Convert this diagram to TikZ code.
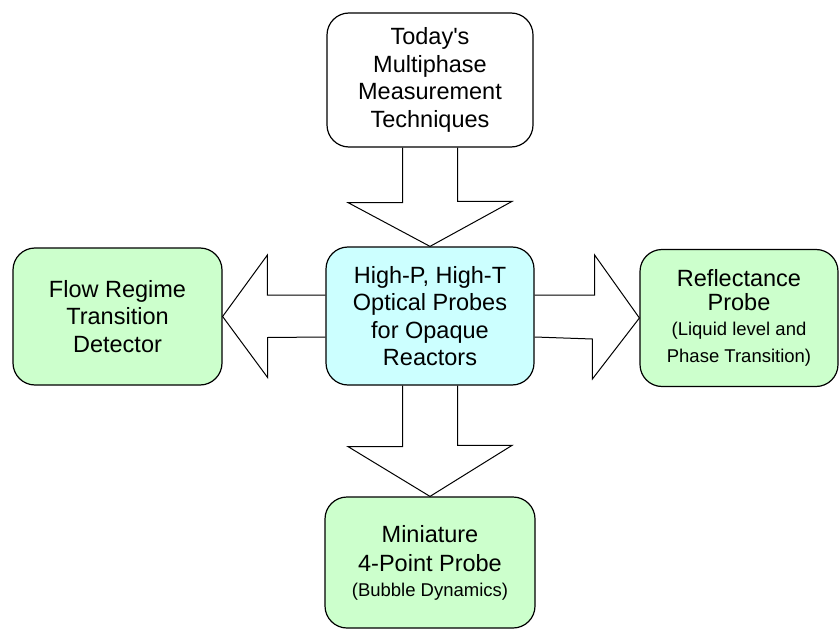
\documentclass[tikz,border=0pt]{standalone}
\usepackage{fontspec}
\setmainfont{Liberation Sans}
\usetikzlibrary{calc}

\definecolor{probecyan}{HTML}{CCFFFF}
\definecolor{probegreen}{HTML}{CCFFCC}
\newcommand{\boxtxt}{\fontsize{23.5}{27.5}\selectfont}
\newcommand{\notetxt}{\fontsize{18.5}{23}\selectfont}

\begin{document}
\begin{tikzpicture}[x=1pt,y=-1pt,
  box/.style={draw,line width=1.2pt,rounded corners=22pt,inner sep=0pt,align=center,font=\boxtxt},
  blockarrow/.style={draw,line width=1pt,line join=miter}]
  \useasboundingbox (0,0) rectangle (840,631);
  \node[box,fill=white,minimum width=206pt,minimum height=134pt] (today) at (430, 80) {Today\textquotesingle s\\Multiphase\\Measurement\\Techniques};
  \node[box,fill=probecyan,minimum width=208pt,minimum height=138pt] (probes) at (430, 316) {High-P, High-T\\Optical Probes\\for Opaque\\Reactors};
  \node[box,fill=probegreen,minimum width=209pt,minimum height=137pt] (flow) at (117.5, 316.5) {Flow Regime\\Transition\\Detector};
  \node[box,fill=probegreen,minimum width=198pt,minimum height=137pt] (refl) at (739, 318) {Reflectance\\[-3pt]Probe\\[-3pt]\notetxt(Liquid level and\\\notetxt Phase Transition)};
  \node[box,fill=probegreen,minimum width=210pt,minimum height=131pt] (mini) at (430, 562.5) {Miniature\\[2pt]4-Point Probe\\[-3pt]\notetxt(Bubble Dynamics)};
  % block arrows
  \path[blockarrow] ($(today.south)+(-27.5,0)$) -- ++(0,55) -- ++(-54.5,0) -- (probes.north) -- ++(82,-45) -- ++(-54.5,0) -- ($(today.south)+(27.5,0)$);
  \path[blockarrow] ($(probes.south)+(-27.5,0)$) -- ++(0,61) -- ++(-54.5,0) -- (mini.north) -- ++(82,-51) -- ++(-54.5,0) -- ($(probes.south)+(27.5,0)$);
  \path[blockarrow] ($(probes.west)+(0,-21)$) -- ++(-58,0) -- ++(0,-40) -- (flow.east) -- ++(45,61) -- ++(0,-40) -- ($(probes.west)+(0,21)$);
  \path[blockarrow] ($(probes.east)+(0,-21)$) -- ++(60,0) -- ++(0,-40) -- (refl.west) -- ++(-47,61) -- ++(0,-40) -- ($(probes.east)+(0,21)$);
\end{tikzpicture}
\end{document}
